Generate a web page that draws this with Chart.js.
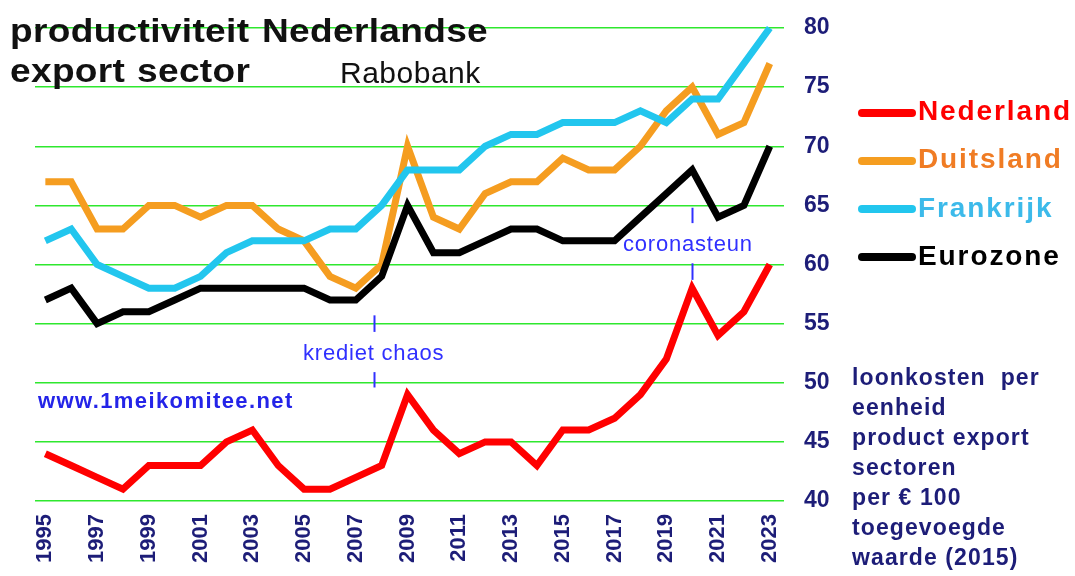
<!DOCTYPE html>
<html>
<head>
<meta charset="utf-8">
<script src="https://cdn.jsdelivr.net/npm/chart.js@4"></script>
<style>
  html, body { margin: 0; padding: 0; background: #fff; }
  #wrap { position: relative; width: 1075px; height: 576px; overflow: hidden; font-family: "Liberation Sans", Arial, sans-serif; }
  #c { position: absolute; left: 0; top: 0; }
  .t { position: absolute; white-space: nowrap; line-height: 1; }
  .title { font-weight: bold; font-size: 34px; letter-spacing: 0.3px; color: #111; transform: scaleX(1.09); transform-origin: left top; }
  .leg { position: absolute; left: 858px; width: 58px; height: 8px; border-radius: 4px; }
  .legtxt { font-weight: bold; font-size: 28px; letter-spacing: 1.9px; }
  .note { color: #3030ff; font-size: 22px; letter-spacing: 0.8px; }
  #side { position: absolute; left: 852px; top: 362px; font-weight: bold; font-size: 23px; line-height: 30px; letter-spacing: 1.1px; color: #1d1d78; white-space: pre; }
</style>
</head>
<body>
<div id="wrap">
  <canvas id="c" width="1075" height="576"></canvas>
  <div class="t title" style="left:10px; top:13px;">productiviteit</div>
  <div class="t title" style="left:262px; top:13px;">Nederlandse</div>
  <div class="t title" style="left:10px; top:53px;">export</div>
  <div class="t title" style="left:137px; top:53px;">sector</div>
  <div class="t" style="left:340px; top:58px; font-size:30px; letter-spacing:0.5px; color:#111;">Rabobank</div>

  <div class="leg" style="top:109px; background:#ff0000;"></div>
  <div class="t legtxt" style="left:918px; top:97px; color:#ff0000;">Nederland</div>
  <div class="leg" style="top:157px; background:#f59d20;"></div>
  <div class="t legtxt" style="left:918px; top:145px; color:#f07c24;">Duitsland</div>
  <div class="leg" style="top:205px; background:#22c6ee;"></div>
  <div class="t legtxt" style="left:918px; top:194px; color:#3cbaea;">Frankrijk</div>
  <div class="leg" style="top:253px; background:#000;"></div>
  <div class="t legtxt" style="left:918px; top:242px; color:#000;">Eurozone</div>

  <div class="t" style="left:38px; top:390px; font-weight:bold; font-size:22px; letter-spacing:1.4px; color:#2424e8;">www.1meikomitee.net</div>
  <div class="t note" style="left:303px; top:342px;">krediet chaos</div>
  <div class="t note" style="left:623px; top:233px;">coronasteun</div>

  <div id="side">loonkosten  per
eenheid
product export
sectoren
per € 100
toegevoegde
waarde (2015)</div>
</div>
<script>
const years = [1995,1996,1997,1998,1999,2000,2001,2002,2003,2004,2005,2006,2007,2008,2009,
               2010,2011,2012,2013,2014,2015,2016,2017,2018,2019,2020,2021,2022,2023];
const nederland = [44,43,42,41,43,43,43,45,46,43,41,41,42,43,49,46,44,45,45,43,46,46,47,49,52,58,54,56,60];
const duitsland = [67,67,63,63,65,65,64,65,65,63,62,59,58,60,70,64,63,66,67,67,69,68,68,70,73,75,71,72,77];
const frankrijk = [62,63,60,59,58,58,59,61,62,62,62,63,63,65,68,68,68,70,71,71,72,72,72,73,72,74,74,77,80];
const eurozone  = [57,58,55,56,56,57,58,58,58,58,58,57,57,59,65,61,61,62,63,63,62,62,62,64,66,68,64,65,70];
const yTicks = [40,45,50,55,60,65,70,75,80];
const xTickYears = years.filter(y => y % 2 === 1);

// event markers: x position and two short ranges (value units) for the little blue ticks
const markerX = [2007.7, 2020];
const markerRanges = [[[55.7, 54.3], [50.9, 49.6]], [[64.8, 63.5], [60.1, 58.7]]];

const toPts = arr => arr.map((v, i) => ({ x: years[i], y: v }));

const markerPlugin = {
  id: 'markers',
  afterDatasetsDraw(chart) {
    const ctx = chart.ctx, xs = chart.scales.x, ys = chart.scales.y;
    ctx.save();
    ctx.strokeStyle = '#3030ff';
    ctx.lineWidth = 2;
    markerX.forEach((mx, i) => {
      const px = Math.round(xs.getPixelForValue(mx)) + 0.5;
      markerRanges[i].forEach(r => {
        ctx.beginPath();
        ctx.moveTo(px, ys.getPixelForValue(r[0]));
        ctx.lineTo(px, ys.getPixelForValue(r[1]));
        ctx.stroke();
      });
    });
    ctx.restore();
  }
};

const line = (label, data, color) => ({
  label, data: toPts(data), borderColor: color, backgroundColor: color,
  borderWidth: 7, pointRadius: 0, tension: 0, fill: false, clip: false
});

new Chart(document.getElementById('c'), {
  type: 'line',
  data: {
    datasets: [
      line('Nederland', nederland, '#ff0000'),
      line('Eurozone', eurozone, '#000000'),
      line('Frankrijk', frankrijk, '#22c6ee'),
      line('Duitsland', duitsland, '#f59d20')
    ]
  },
  options: {
    responsive: false,
    animation: false,
    layout: { padding: { left: 35, right: 231, top: 28, bottom: 0 } },
    plugins: { legend: { display: false }, tooltip: { enabled: false } },
    scales: {
      x: {
        type: 'linear', min: 1994.6, max: 2023.55,
        grid: { display: false },
        border: { display: false },
        afterBuildTicks: s => { s.ticks = xTickYears.map(v => ({ value: v })); },
        afterFit: s => { s.height = 75; },
        ticks: {
          autoSkip: false, minRotation: 90, maxRotation: 90, padding: 5,
          color: '#1d1d78', font: { family: 'Liberation Sans, Arial', weight: 'bold', size: 22 },
          callback: v => String(v)
        }
      },
      y: {
        position: 'right', min: 40, max: 80,
        afterBuildTicks: s => { s.ticks = yTicks.map(v => ({ value: v })); },
        afterFit: s => { s.width = 60; s.paddingTop = 0; s.paddingBottom = 0; },
        border: { display: false },
        grid: { color: '#2ee82e', lineWidth: 1.5, drawTicks: false },
        ticks: {
          padding: 20, color: '#1d1d78',
          font: { family: 'Liberation Sans, Arial', weight: 'bold', size: 23 }
        }
      }
    }
  },
  plugins: [markerPlugin]
});
</script>
</body>
</html>
